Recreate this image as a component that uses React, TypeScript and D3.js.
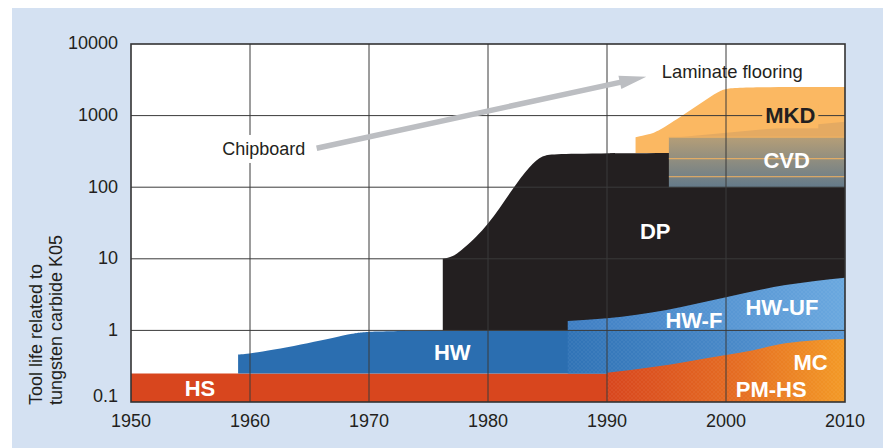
import React, { useEffect, useRef } from "react";
import * as d3 from "d3";

// axis ticks
const yearTicks = [1950, 1960, 1970, 1980, 1990, 2000, 2010];
const lifeTicks = [0.1, 1, 10, 100, 1000, 10000];

// upper edges of the material bands, [year, tool life]
const hsTop = [[1950, 0.25], [2010, 0.25]];
const hwTop = [[1959, 0.46], [1960, 0.47], [1965, 0.66], [1969, 0.94], [1970.5, 1], [2010, 1]];
const hwModernLow = [[1986.7, 1], [2010, 1]];
const hwFTop = [[1986.7, 1.35], [1990, 1.48], [1995, 1.93], [2000, 2.9], [2005, 4.3], [2010, 5.45]];
const mcTop = [[1990, 0.256], [1994, 0.31], [1996.7, 0.366], [2000, 0.453], [2002.3, 0.53], [2005, 0.66], [2010, 0.76]];
const dpTop = [[1976.2, 10], [1977, 10.5], [1978, 14], [1980, 29], [1982, 92], [1983.5, 200], [1984.6, 280], [1985.6, 300], [2010, 300]];
const mkdTop = [[1992.4, 500], [1993.5, 540], [1994.5, 630], [1996.7, 1100], [1998.4, 1700], [1999.6, 2300], [2000.6, 2500], [2010, 2500]];
const cvdBox = [1995.2, 2010, 100, 500];
const cvdLines = [500, 250, 140];
const cvdWedge = [[1996, 500], [2010, 500], [2010, 820]];

// annotations
const arrowTail = [1965.6, 350];
const arrowTip = [1993.3, 3500];
const bandLabels = [
  { text: "HS", year: 1955.8, value: 0.121, color: "#fff" },
  { text: "HW", year: 1977.0, value: 0.386, color: "#fff" },
  { text: "DP", year: 1994.05, value: 18.9, color: "#fff" },
  { text: "HW-F", year: 1997.3, value: 1.08, color: "#fff" },
  { text: "HW-UF", year: 2004.7, value: 1.64, color: "#fff" },
  { text: "MC", year: 2007.1, value: 0.28, color: "#fff" },
  { text: "PM-HS", year: 2003.8, value: 0.119, color: "#fff" },
  { text: "CVD", year: 2005.1, value: 185, color: "#fff" },
];

const FONT = "'Liberation Sans', Arial, Helvetica, sans-serif";

const ToolLifeChart = () => {
  const ref = useRef(null);

  useEffect(() => {
    const width = 883;
    const height = 448;
    const margin = { top: 44, bottom: 46, left: 131, right: 38 };

    const svg = d3.select(ref.current).attr("width", width).attr("height", height);
    svg.selectAll("*").remove();

    svg.append("rect").attr("width", width).attr("height", height).attr("fill", "#fff");
    svg.append("rect").attr("x", 12).attr("y", 8).attr("width", width - 12).attr("height", height - 8).attr("fill", "#d4e1f2");

    const x = d3.scaleLinear().domain([1950, 2010]).range([margin.left, width - margin.right]);
    const y = d3.scaleLog().domain([0.1, 10000]).range([height - margin.bottom, margin.top]);

    const defs = svg.append("defs");
    const hgrad = (id, x0, x1, stops) => {
      const g = defs.append("linearGradient").attr("id", id)
        .attr("gradientUnits", "userSpaceOnUse")
        .attr("x1", x(x0)).attr("x2", x(x1)).attr("y1", 0).attr("y2", 0);
      stops.forEach(([o, c]) => g.append("stop").attr("offset", o).attr("stop-color", c));
    };
    hgrad("hwLow", 1986.7, 2010, [[0, "#3073b6"], [1, "#5a98d5"]]);
    hgrad("hwUp", 1986.7, 2010, [[0, "#3e7ec3"], [1, "#6aa8df"]]);
    hgrad("mc", 1990, 2010, [[0, "#d8461e"], [0.55, "#e56d22"], [1, "#f39a26"]]);
    const cg = defs.append("linearGradient").attr("id", "cvd").attr("x1", 0).attr("x2", 0).attr("y1", 0).attr("y2", 1);
    cg.append("stop").attr("offset", 0).attr("stop-color", "#b59e77");
    cg.append("stop").attr("offset", 1).attr("stop-color", "#647a8a");
    const tex = defs.append("pattern").attr("id", "tex").attr("patternUnits", "userSpaceOnUse")
      .attr("width", 4).attr("height", 4);
    tex.append("path").attr("d", "M0,2L2,0L4,2L2,4Z").attr("fill", "none")
      .attr("stroke", "#fff").attr("stroke-opacity", 0.06).attr("stroke-width", 0.8);

    const plot = svg.append("g");
    plot.append("rect")
      .attr("x", x(1950)).attr("y", y(10000))
      .attr("width", x(2010) - x(1950)).attr("height", y(0.1) - y(10000))
      .attr("fill", "#fff");

    const band = (low, curve = d3.curveMonotoneX) =>
      d3.area()
        .x(d => x(d[0]))
        .y0(() => y(low))
        .y1(d => y(d[1]))
        .curve(curve);

    // HS
    plot.append("path").datum(hsTop).attr("d", band(0.1, d3.curveLinear)).attr("fill", "#d8461e");
    // HW
    plot.append("path").datum(hwTop).attr("d", band(0.25, d3.curveBasis)).attr("fill", "#2b6eb0");
    // DP
    plot.append("path").datum(dpTop).attr("d", band(1, d3.curveBasis)).attr("fill", "#231f20");
    // HW-F / HW-UF, part below 1
    plot.append("path").datum(hwModernLow).attr("d", band(0.25, d3.curveLinear)).attr("fill", "url(#hwLow)");
    plot.append("path").datum(hwModernLow).attr("d", band(0.25, d3.curveLinear)).attr("fill", "url(#tex)");
    // HW-F / HW-UF, part above 1
    plot.append("path").datum(hwFTop).attr("d", band(1)).attr("fill", "url(#hwUp)");
    plot.append("path").datum(hwFTop).attr("d", band(1)).attr("fill", "url(#tex)");
    // MC / PM-HS
    plot.append("path").datum(mcTop).attr("d", band(0.1)).attr("fill", "url(#mc)");
    plot.append("path").datum(mcTop).attr("d", band(0.1)).attr("fill", "url(#tex)");
    // MKD
    plot.append("path").datum(mkdTop).attr("d", band(300, d3.curveBasis)).attr("fill", "#fbb862");
    // CVD
    const [c0, c1, cLow, cHigh] = cvdBox;
    plot.append("polygon")
      .attr("points", cvdWedge.map(d => [x(d[0]), y(d[1])].join(",")).join(" "))
      .attr("fill", "#e4aa62");
    plot.append("rect")
      .attr("x", x(c0)).attr("y", y(cHigh))
      .attr("width", x(c1) - x(c0)).attr("height", y(cLow) - y(cHigh))
      .attr("fill", "url(#cvd)");
    plot.selectAll(".cvdline").data(cvdLines).join("line")
      .attr("x1", x(c0)).attr("x2", x(c1))
      .attr("y1", d => y(d)).attr("y2", d => y(d))
      .attr("stroke", "#f6b460").attr("stroke-width", 1);

    // grid
    const grid = svg.append("g").attr("stroke", "#3a3a3a").attr("stroke-width", 1);
    grid.selectAll(".vg").data(yearTicks.slice(1, -1)).join("line")
      .attr("x1", d => x(d)).attr("x2", d => x(d))
      .attr("y1", y(10000)).attr("y2", y(0.1));
    grid.selectAll(".hg").data(lifeTicks.slice(1, -1)).join("line")
      .attr("x1", x(1950)).attr("x2", x(2010))
      .attr("y1", d => y(d)).attr("y2", d => y(d));

    // frame
    svg.append("rect")
      .attr("x", x(1950)).attr("y", y(10000))
      .attr("width", x(2010) - x(1950)).attr("height", y(0.1) - y(10000))
      .attr("fill", "none").attr("stroke", "#333").attr("stroke-width", 1.6);

    // tick labels
    svg.append("g").selectAll("text").data(lifeTicks).join("text")
      .attr("x", x(1950) - 13)
      .attr("y", d => y(d))
      .attr("dy", d => (d === 0.1 ? "0em" : "0.3em"))
      .attr("text-anchor", "end")
      .attr("font-family", FONT).attr("font-size", 18).attr("fill", "#231f20")
      .text(d => d3.format("~g")(d));
    svg.append("g").selectAll("text").data(yearTicks).join("text")
      .attr("x", d => x(d))
      .attr("y", y(0.1) + 25)
      .attr("text-anchor", "middle")
      .attr("font-family", FONT).attr("font-size", 18).attr("fill", "#231f20")
      .text(d => d);

    // y title
    ["Tool life related to", "tungsten carbide K05"].forEach((t, i) => {
      svg.append("text")
        .attr("transform", `translate(${41.5 + i * 20},405) rotate(-90)`)
        .attr("font-family", FONT).attr("font-size", 18).attr("fill", "#231f20")
        .text(t);
    });

    // arrow
    const [tx, ty] = [x(arrowTail[0]), y(arrowTail[1])];
    const [hx, hy] = [x(arrowTip[0]), y(arrowTip[1])];
    const len = Math.hypot(hx - tx, hy - ty);
    const ux = (hx - tx) / len, uy = (hy - ty) / len;
    const nx = -uy, ny = ux;
    const sw = 2.8, hl = 27, hw = 6.8;
    const bx = hx - ux * hl, by = hy - uy * hl;
    const arrowPts = [
      [tx + nx * sw, ty + ny * sw], [bx + nx * sw, by + ny * sw], [bx + nx * hw, by + ny * hw],
      [hx, hy],
      [bx - nx * hw, by - ny * hw], [bx - nx * sw, by - ny * sw], [tx - nx * sw, ty - ny * sw],
    ];
    svg.append("polygon").attr("points", arrowPts.map(p => p.join(",")).join(" ")).attr("fill", "#bcbec2");

    // Chipboard
    const chip = svg.append("text")
      .attr("x", x(1964.65)).attr("y", y(282))
      .attr("text-anchor", "end")
      .attr("font-family", FONT).attr("font-size", 18).attr("fill", "#231f20")
      .text("Chipboard");
    const cb = chip.node().getBBox();
    svg.insert("rect", () => chip.node())
      .attr("x", cb.x - 3).attr("y", cb.y - 4).attr("width", cb.width + 6).attr("height", cb.height + 8)
      .attr("fill", "#fff");

    svg.append("text")
      .attr("x", x(1994.6)).attr("y", y(3350))
      .attr("font-family", FONT).attr("font-size", 18.4).attr("fill", "#231f20")
      .text("Laminate flooring");

    // MKD label with a patch over the grid line
    const mkd = svg.append("text")
      .attr("x", x(2005.4)).attr("y", y(780))
      .attr("text-anchor", "middle")
      .attr("font-family", FONT).attr("font-size", 22).attr("font-weight", "bold").attr("fill", "#231f20")
      .text("MKD");
    const mb = mkd.node().getBBox();
    svg.insert("rect", () => mkd.node())
      .attr("x", mb.x - 3).attr("y", mb.y).attr("width", mb.width + 6).attr("height", mb.height)
      .attr("fill", "#fbb862");

    svg.append("g").selectAll("text").data(bandLabels).join("text")
      .attr("x", d => x(d.year)).attr("y", d => y(d.value))
      .attr("text-anchor", "middle")
      .attr("font-family", FONT).attr("font-size", 22).attr("font-weight", "bold")
      .attr("fill", d => d.color)
      .text(d => d.text);
  }, []);

  return <svg ref={ref} style={{ position: "absolute", left: 0, top: 0 }} />;
};

export default function App() {
  return (
    <div>
      <ToolLifeChart />
    </div>
  );
}
